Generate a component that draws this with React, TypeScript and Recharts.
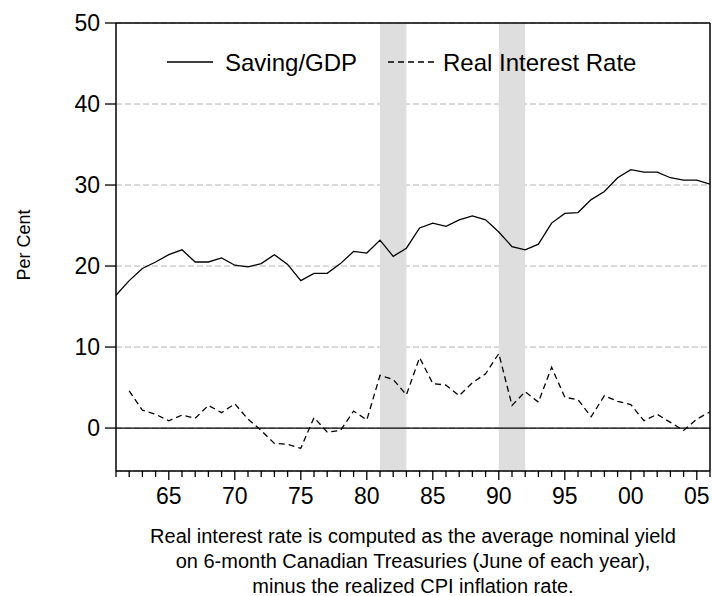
import {
  LineChart,
  Line,
  XAxis,
  YAxis,
  CartesianGrid,
  ReferenceArea,
  ReferenceLine,
  Legend,
} from "recharts";

const FONT = '"Liberation Sans", Arial, sans-serif';

const years = [
  1961, 1962, 1963, 1964, 1965, 1966, 1967, 1968, 1969, 1970, 1971, 1972,
  1973, 1974, 1975, 1976, 1977, 1978, 1979, 1980, 1981, 1982, 1983, 1984,
  1985, 1986, 1987, 1988, 1989, 1990, 1991, 1992, 1993, 1994, 1995, 1996,
  1997, 1998, 1999, 2000, 2001, 2002, 2003, 2004, 2005, 2006,
];

const saving = [
  16.4, 18.2, 19.7, 20.5, 21.4, 22.0, 20.5, 20.5, 21.0, 20.1, 19.9, 20.3,
  21.4, 20.2, 18.2, 19.1, 19.1, 20.3, 21.8, 21.6, 23.2, 21.2, 22.2, 24.7,
  25.3, 24.9, 25.7, 26.2, 25.7, 24.2, 22.4, 22.0, 22.7, 25.3, 26.5, 26.6,
  28.2, 29.2, 30.9, 31.9, 31.6, 31.6, 30.9, 30.6, 30.6, 30.1,
];

const realRate = [
  null, 4.6, 2.2, 1.7, 0.9, 1.6, 1.2, 2.8, 1.9, 3.0, 1.1, -0.3,
  -1.9, -2.0, -2.5, 1.3, -0.5, -0.3, 2.1, 1.0, 6.5, 6.0, 4.1, 8.7,
  5.5, 5.3, 4.0, 5.6, 6.7, 9.2, 2.8, 4.5, 3.2, 7.5, 3.8, 3.5,
  1.4, 4.0, 3.3, 2.9, 0.9, 1.7, 0.7, -0.3, 1.1, 2.0,
];

// shaded periods
const bandStart = [1981, 1990];
const bandEnd = [1983, 1992];

const yTicks = [0, 10, 20, 30, 40, 50];
const seriesNames = ["Saving/GDP", "Real Interest Rate"];
const footnote = [
  "Real interest rate is computed as the average nominal yield",
  "on 6-month Canadian Treasuries (June of each year),",
  "minus the realized CPI inflation rate.",
];

const data = years.map((year, i) => ({
  year,
  saving: saving[i],
  rate: realRate[i],
}));

const DASH = "6 4";

function YearTick(props: any) {
  const { x, y, payload } = props;
  const yr = payload.value as number;
  const major = yr % 5 === 0;
  return (
    <g>
      <line x1={x} x2={x} y1={y} y2={y + (major ? 9 : 6)} stroke="#000" strokeWidth={1.3} />
      {major && (
        <text x={x} y={y + 33} textAnchor="middle" fontSize={23} fill="#000" fontFamily={FONT}>
          {String(yr % 100).padStart(2, "0")}
        </text>
      )}
    </g>
  );
}

function ChartLegend() {
  return (
    <svg width={712} height={100} style={{ display: "block" }}>
      <line x1={167} x2={213} y1={62} y2={62} stroke="#000" strokeWidth={1.3} />
      <text x={225} y={71} fontSize={24} fill="#000" fontFamily={FONT}>
        {seriesNames[0]}
      </text>
      <line x1={388} x2={437} y1={62} y2={62} stroke="#000" strokeWidth={1.3} strokeDasharray={DASH} />
      <text x={443} y={71} fontSize={24} fill="#000" fontFamily={FONT}>
        {seriesNames[1]}
      </text>
    </svg>
  );
}

export default function App() {
  return (
    <div
      style={{
        position: "absolute",
        left: 0,
        top: 0,
        width: 712,
        height: 596,
        background: "#fff",
        fontFamily: FONT,
      }}
    >
      <LineChart
        width={712}
        height={596}
        data={data}
        margin={{ top: 23, right: 2, bottom: 85, left: 0 }}
      >
        {bandStart.map((s, i) => (
          <ReferenceArea
            key={s}
            x1={s}
            x2={bandEnd[i]}
            fill="#dedede"
            fillOpacity={1}
            stroke="none"
          />
        ))}
        <CartesianGrid vertical={false} stroke="#b4b4b4" strokeDasharray="6 3" />
        <XAxis
          dataKey="year"
          type="number"
          domain={[1961, 2006]}
          ticks={years}
          interval={0}
          tick={YearTick}
          tickLine={false}
          tickSize={0}
          tickMargin={0}
          height={40}
          axisLine={{ stroke: "#000", strokeWidth: 1.5 }}
        />
        <YAxis
          type="number"
          domain={[-5.3, 50]}
          ticks={yTicks}
          allowDataOverflow
          width={116}
          tickSize={11}
          tickMargin={5}
          tick={{ fontSize: 23, fill: "#000", fontFamily: FONT }}
          tickLine={{ stroke: "#000", strokeWidth: 1.3 }}
          axisLine={{ stroke: "#000", strokeWidth: 1.5 }}
        />
        <ReferenceLine y={0} stroke="#000" strokeWidth={1.3} />
        <ReferenceLine y={50} stroke="#000" strokeWidth={1.5} />
        <ReferenceLine x={2006} stroke="#000" strokeWidth={1.5} />
        <Line
          dataKey="saving"
          name={seriesNames[0]}
          type="linear"
          stroke="#000"
          strokeWidth={1.3}
          dot={false}
          isAnimationActive={false}
        />
        <Line
          dataKey="rate"
          name={seriesNames[1]}
          type="linear"
          stroke="#000"
          strokeWidth={1.3}
          strokeDasharray={DASH}
          dot={false}
          isAnimationActive={false}
        />
        <Legend
          layout="horizontal"
          verticalAlign="middle"
          align="center"
          content={ChartLegend}
          wrapperStyle={{ position: "absolute", left: 0, top: 0, width: 712, height: 100 }}
        />
      </LineChart>
      <svg
        width={712}
        height={596}
        style={{ position: "absolute", left: 0, top: 0, pointerEvents: "none" }}
      >
        <text
          transform="translate(30,245) rotate(-90)"
          textAnchor="middle"
          fontSize={18}
          fill="#000"
          fontFamily={FONT}
        >
          Per Cent
        </text>
        {footnote.map((line, i) => (
          <text
            key={i}
            x={413}
            y={543 + i * 25}
            textAnchor="middle"
            fontSize={20}
            fill="#000"
            fontFamily={FONT}
          >
            {line}
          </text>
        ))}
      </svg>
    </div>
  );
}
